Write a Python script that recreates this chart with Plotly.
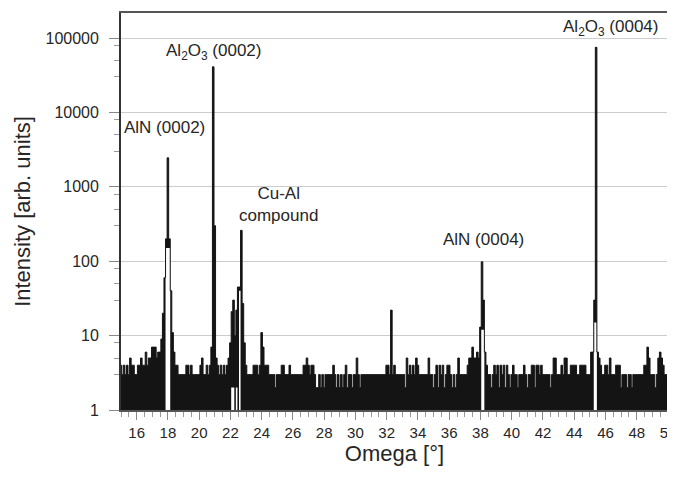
import math
import plotly.graph_objects as go

# ---- data ----
omega_start = 15.0
omega_step = 0.1
intensity = [
    4, 3, 4, 3, 4, 3, 5, 4, 4, 3,            # 15.0-15.9
    3, 4, 4, 5, 4, 4, 6, 4, 5, 5,            # 16.0-16.9
    7, 7, 7, 5, 6, 6, 9, 20, 60, 200,        # 17.0-17.9
    2450, 200, 40, 11, 6, 4, 4, 3, 3, 3,     # 18.0-18.9
    3, 3, 4, 4, 3, 4, 3, 3, 3, 3,            # 19.0-19.9
    3, 4, 5, 3, 3, 4, 3, 4, 7, 41000,        # 20.0-20.9
    300, 5, 4, 3, 4, 3, 4, 3, 4, 5,          # 21.0-21.9
    8, 21, 30, 10, 22, 45, 45, 260, 27, 8,   # 22.0-22.9
    4, 3, 3, 3, 3, 4, 4, 4, 3, 4,            # 23.0-23.9
    11, 7, 4, 4, 4, 3, 3, 3, 3, 2,           # 24.0-24.9
    3, 3, 3, 4, 4, 3, 3, 3, 4, 3,            # 25.0-25.9
    3, 3, 3, 3, 3, 3, 3, 4, 4, 5,            # 26.0-26.9
    4, 3, 4, 4, 3, 2, 2, 3, 2, 3,            # 27.0-27.9
    2, 3, 3, 3, 3, 3, 4, 3, 2, 3,            # 28.0-28.9
    2, 3, 2, 3, 4, 2, 3, 3, 2, 3,            # 29.0-29.9
    3, 5, 3, 2, 3, 3, 3, 3, 3, 3,            # 30.0-30.9
    3, 3, 3, 3, 3, 3, 3, 3, 3, 3,            # 31.0-31.9
    4, 4, 3, 22, 3, 4, 3, 3, 3, 3,           # 32.0-32.9
    3, 3, 2, 5, 3, 4, 3, 4, 3, 5,            # 33.0-33.9
    4, 3, 3, 3, 3, 3, 3, 5, 3, 3,            # 34.0-34.9
    2, 3, 4, 2, 4, 3, 4, 2, 3, 4,            # 35.0-35.9
    4, 3, 2, 3, 2, 3, 5, 3, 3, 3,            # 36.0-36.9
    3, 3, 4, 5, 5, 7, 5, 5, 6, 5,            # 37.0-37.9
    13, 98, 30, 6, 4, 3, 3, 2, 3, 4,         # 38.0-38.9
    3, 4, 2, 4, 3, 4, 2, 4, 3, 2,            # 39.0-39.9
    3, 4, 3, 3, 2, 3, 3, 3, 4, 3,            # 40.0-40.9
    2, 3, 3, 4, 4, 2, 4, 4, 3, 4,            # 41.0-41.9
    3, 3, 3, 3, 3, 2, 3, 5, 5, 3,            # 42.0-42.9
    3, 3, 4, 3, 5, 5, 3, 3, 4, 4,            # 43.0-43.9
    4, 4, 3, 3, 4, 4, 4, 4, 3, 3,            # 44.0-44.9
    3, 6, 6, 30, 75000, 6, 5, 4, 3, 3,       # 45.0-45.9
    4, 4, 3, 5, 3, 3, 3, 4, 4, 4,            # 46.0-46.9
    2, 3, 3, 3, 2, 3, 3, 2, 3, 3,            # 47.0-47.9
    3, 3, 3, 3, 3, 4, 4, 7, 5, 3,            # 48.0-48.9
    3, 3, 2, 3, 5, 6, 5, 4, 3, 3,            # 49.0-49.9
    3,                                       # 50.0
]
omega = [round(omega_start + i * omega_step, 2) for i in range(len(intensity))]

# unfilled (white) parts below the strongest peaks
gap_omega = [17.9, 18.0, 18.1, 22.1, 22.2, 22.4, 22.6, 38.1, 38.2, 45.3, 45.4]
gap_top = [150, 150, 150, 2, 2, 2, 40, 12, 12, 15, 15]

# peak labels
label_text = ["AlN (0002)", "Al<sub>2</sub>O<sub>3</sub> (0002)", "Cu-Al<br>compound",
              "AlN (0004)", "Al<sub>2</sub>O<sub>3</sub> (0004)"]
label_omega = [17.8, 20.9, 25.05, 38.2, 46.35]
label_int = [6200, 65000, 570, 193, 135000]

y_ticks = [1, 10, 100, 1000, 10000, 100000]
y_minor = [m * 10 ** d for d in range(0, 6) for m in (3, 5, 8)]

INK = "#141414"
TXT = "#262626"
FONT = "Liberation Sans, Arial, sans-serif"

# group contiguous gap bins of equal height
groups = []
for xo, h in zip(gap_omega, gap_top):
    if groups and abs(xo - groups[-1][1] - omega_step) < 1e-6 and h == groups[-1][2]:
        groups[-1][1] = xo
    else:
        groups.append([xo, xo, h])

fig = go.Figure()
# filled histogram-like trace
fig.add_trace(go.Scatter(x=omega, y=intensity, mode="lines", fill="tozeroy",
                         fillcolor=INK, line=dict(color=INK, width=0, shape="hvh"),
                         hoverinfo="skip"))
# white unfilled regions
for x0, x1, h in groups:
    fig.add_trace(go.Scatter(x=[x0 - omega_step / 2, x1 + omega_step / 2], y=[h, h],
                             mode="lines", fill="tozeroy", fillcolor="white",
                             line=dict(color="white", width=0), hoverinfo="skip"))
# outline
fig.add_trace(go.Scatter(x=omega, y=intensity, mode="lines",
                         line=dict(color=INK, width=1, shape="hvh"),
                         hoverinfo="skip"))

for t, xo, yi in zip(label_text, label_omega, label_int):
    fig.add_annotation(x=xo, y=math.log10(yi), text=t, showarrow=False,
                       xanchor="center", yanchor="middle",
                       font=dict(family=FONT, size=17, color=TXT))

fig.update_layout(
    width=675, height=480,
    margin=dict(l=113, r=15, t=5, b=78, autoexpand=False),
    paper_bgcolor="white", plot_bgcolor="white",
    showlegend=False,
    font=dict(family=FONT, color=TXT),
)
fig.update_xaxes(
    range=[15, 50], dtick=2, tick0=16, automargin=False,
    ticks="outside", ticklen=8, tickcolor="#888", tickwidth=1,
    minor=dict(dtick=0.5, tick0=15, ticks="outside", ticklen=5, tickcolor="#999", showgrid=False),
    showgrid=False, zeroline=False,
    showline=True, mirror=True, linecolor="#555", linewidth=1.5,
    tickfont=dict(family=FONT, size=15, color=TXT),
    title=dict(text="Omega [°]", font=dict(family=FONT, size=22, color=TXT), standoff=6),
)
fig.update_yaxes(
    type="log", range=[0, 5.336], automargin=False,
    tickmode="array", tickvals=y_ticks, ticktext=[str(v) for v in y_ticks],
    ticks="outside", ticklen=10, tickcolor="#888", tickwidth=1, ticklabelstandoff=7,
    minor=dict(tickmode="array", tickvals=y_minor, ticks="outside", ticklen=5,
               tickcolor="#999", showgrid=False),
    showgrid=True, gridcolor="#cccccc", gridwidth=1, zeroline=False,
    showline=True, mirror=True, linecolor="#333", linewidth=1.8,
    tickfont=dict(family=FONT, size=16, color=TXT),
    title=dict(text="Intensity [arb. units]", font=dict(family=FONT, size=22, color=TXT),
               standoff=9),
)

fig.write_html("out.html")
